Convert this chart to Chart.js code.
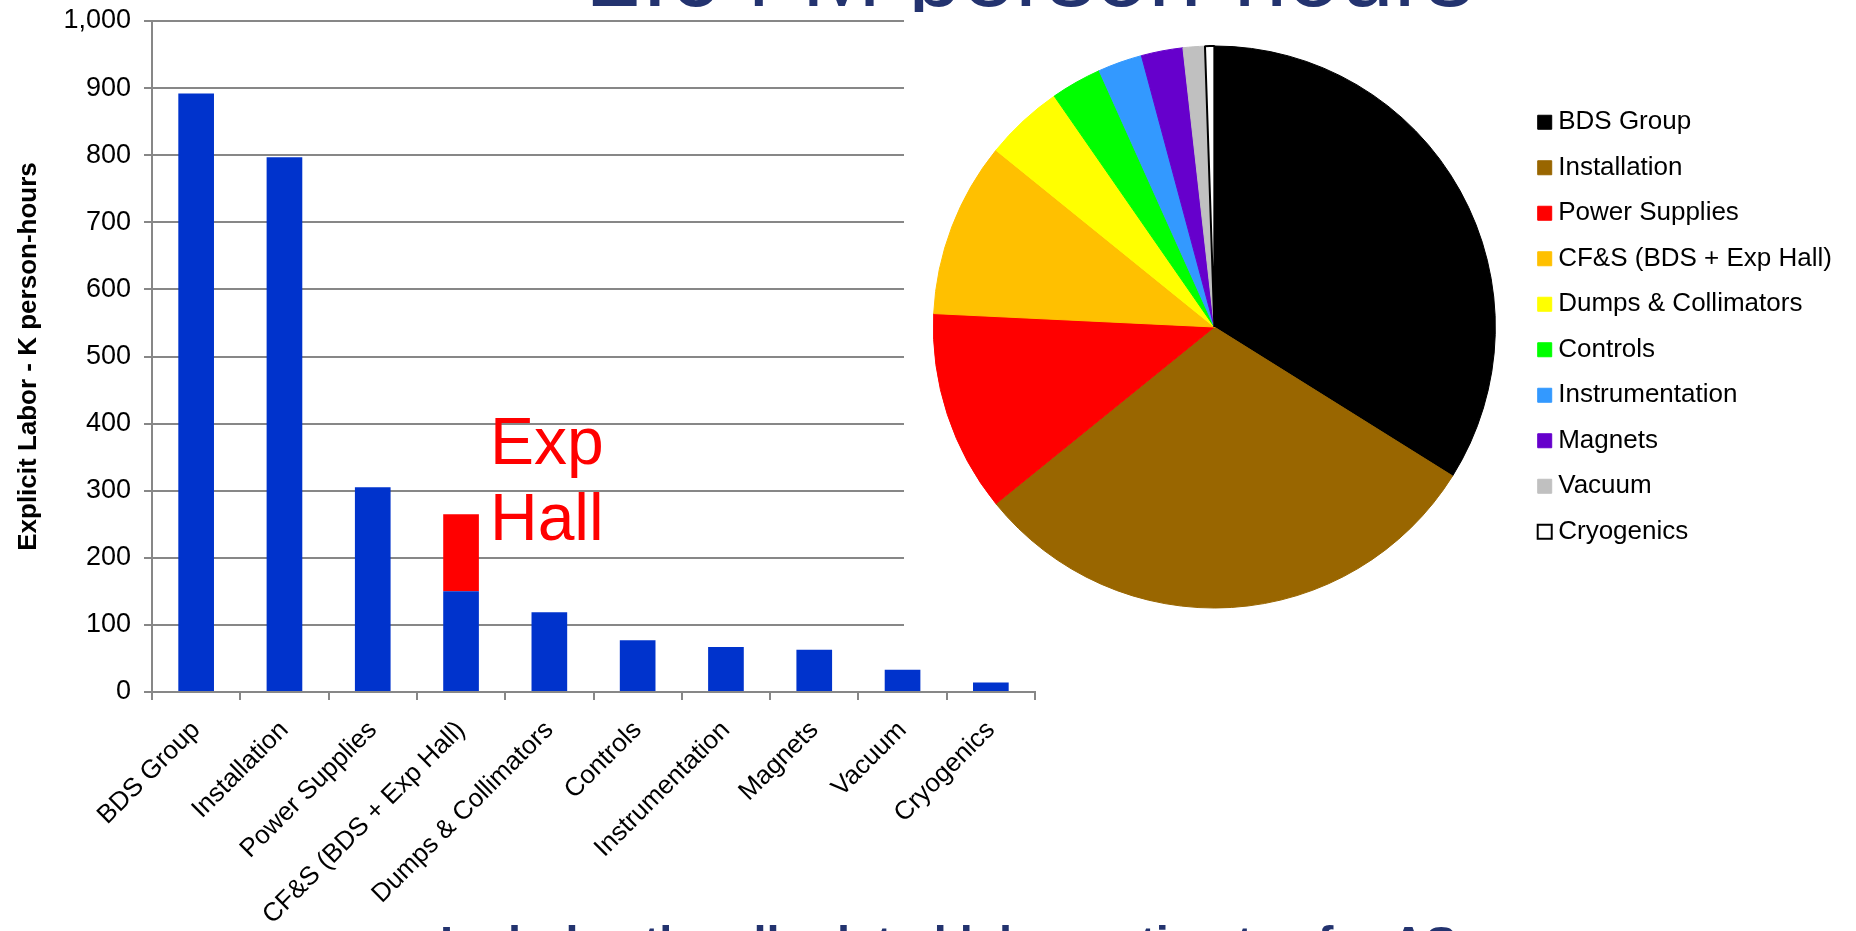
<!DOCTYPE html>
<html>
<head>
<meta charset="utf-8">
<title>BDS explicit labor</title>
<script src="https://cdn.jsdelivr.net/npm/chart.js@4.4.1/dist/chart.umd.min.js"></script>
<style>
  html, body { margin: 0; padding: 0; background: #fff; }
  body { width: 1856px; height: 931px; position: relative; overflow: hidden;
         font-family: Arial, "Liberation Sans", sans-serif; }
  #bars { position: absolute; left: 0; top: 0; }
  #pie { position: absolute; left: 904px; top: 0; background: #fff; }
  .slideTitle { position: absolute; left: 0; top: 0; width: 1856px; height: 12px; overflow: hidden; z-index: 3; }
  .slideTitle span { position: absolute; left: 588px; top: -75px; font-size: 96px; line-height: 96px;
                     color: #23336f; white-space: nowrap; }
  .slideNote { position: absolute; left: 440px; top: 919px; font-size: 47px; line-height: 48px; font-weight: bold;
               color: #23336f; white-space: nowrap; z-index: 3; }
  .expHall { position: absolute; left: 490px; top: 403px; font-size: 66px; line-height: 76px;
             color: #ff0000; z-index: 3; }
</style>
</head>
<body>
<div class="slideTitle"><span>2.64 M person-hours</span></div>
<canvas id="bars" width="1060" height="931"></canvas>
<canvas id="pie" width="952" height="660"></canvas>
<div class="expHall">Exp<br>Hall</div>
<div class="slideNote">Includes the all related labor estimates for AS</div>
<script>
// data (K person-hours)
var categories = ['BDS Group', 'Installation', 'Power Supplies', 'CF&S (BDS + Exp Hall)',
                  'Dumps & Collimators', 'Controls', 'Instrumentation', 'Magnets', 'Vacuum', 'Cryogenics'];
var bdsHours = [892, 797, 305, 150, 119, 77, 67, 63, 33, 14];
var expHallHours = [null, null, null, 115, null, null, null, null, null, null];
var sliceColors = ['#000000', '#996600', '#ff0000', '#ffc000', '#ffff00',
                   '#00ff00', '#3399ff', '#6600cc', '#c0c0c0', '#ffffff'];

Chart.defaults.font.family = 'Arial, "Liberation Sans", sans-serif';
Chart.defaults.color = '#000';

var axisGray = '#878787';

// totals per group for the pie
var totals = [];
for (var i = 0; i < bdsHours.length; i++) {
    totals.push(bdsHours[i] + (expHallHours[i] || 0));
}
var sliceBorders = sliceColors.map(function (c, i) { return i == sliceColors.length - 1 ? '#000000' : c; });
var sliceBorderWidths = sliceColors.map(function (c, i) { return i == sliceColors.length - 1 ? 2 : 1; });

new Chart(document.getElementById('bars'), {
    type: 'bar',
    data: {
        labels: categories,
        datasets: [
            { label: 'BDS', data: bdsHours, backgroundColor: '#0033cc', barPercentage: 0.404, categoryPercentage: 1 },
            { label: 'Exp Hall', data: expHallHours, backgroundColor: '#ff0000', barPercentage: 0.404, categoryPercentage: 1 }
        ]
    },
    options: {
        responsive: false,
        animation: false,
        layout: { padding: { top: 21, right: 25, left: 0, bottom: 0 } },
        plugins: { legend: { display: false }, tooltip: { enabled: false } },
        scales: {
            x: {
                stacked: true,
                grid: { drawOnChartArea: false, offset: true, tickLength: 8, color: axisGray, lineWidth: 2 },
                border: { color: axisGray, width: 2 },
                ticks: { minRotation: 45, maxRotation: 45, autoSkip: false, padding: 15, font: { size: 26 } },
                afterFit: function (scale) { scale.height = 239; }
            },
            y: {
                stacked: true,
                min: 0,
                max: 1000,
                ticks: { stepSize: 100, padding: 13, font: { size: 27 } },
                grid: { color: axisGray, lineWidth: 2, tickLength: 8 },
                border: { color: axisGray, width: 2 },
                title: { display: true, text: 'Explicit Labor - K person-hours',
                         font: { size: 26, weight: 'bold' }, padding: { top: 13, bottom: 0 } },
                afterFit: function (scale) {
                    scale.width = 152;
                    scale.paddingTop = 0;
                    scale.paddingBottom = 0;
                }
            }
        }
    }
});

new Chart(document.getElementById('pie'), {
    type: 'pie',
    data: {
        labels: categories,
        datasets: [{ data: totals, backgroundColor: sliceColors, borderColor: sliceBorders, borderWidth: sliceBorderWidths }]
    },
    options: {
        responsive: false,
        animation: false,
        layout: { padding: { top: 45, bottom: 51, left: 0, right: 14 } },
        plugins: {
            tooltip: { enabled: false },
            legend: {
                position: 'right',
                // tiny boxWidth + point style keeps the square close to its label
                labels: { usePointStyle: true, pointStyle: 'rect', boxWidth: 1, boxHeight: 14,
                          padding: 19.5, font: { size: 26 } }
            }
        }
    }
});
</script>
</body>
</html>
